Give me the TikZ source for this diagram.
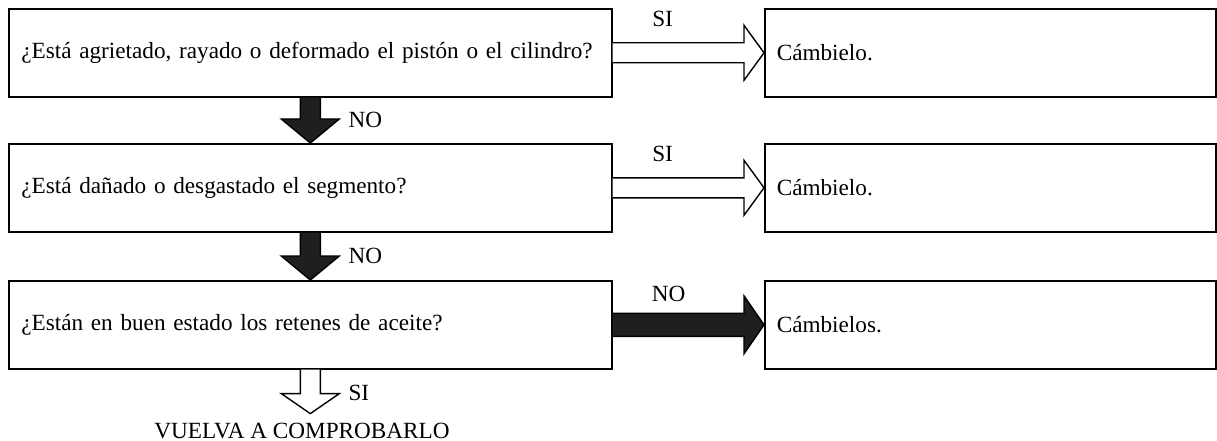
\documentclass[tikz,border=0pt]{standalone}
\usepackage{fontspec}
\setmainfont{Liberation Serif}
\usetikzlibrary{calc}
\begin{document}
\begin{tikzpicture}[x=1pt,y=-1pt,
  every node/.style={font=\fontsize{23.2}{27}\selectfont},
  question/.style={draw,line width=1.6pt,anchor=north west,minimum width=603pt,
    minimum height=88pt,text width=578pt,align=left,inner xsep=12pt,inner ysep=0pt},
  action/.style={draw,line width=1.6pt,anchor=north west,minimum width=451pt,
    minimum height=88pt,text width=427pt,align=left,inner xsep=11pt,inner ysep=0pt},
  label/.style={inner sep=0pt},
  hollow/.style={draw,line width=1.4pt,fill=white,line join=miter},
  solid/.style={draw,line width=1.4pt,fill=black!88,line join=miter}]
\useasboundingbox (0,0) rectangle (1217,441);

% question boxes
\node[question] (q1) at (8,8)   {\mbox{¿Está agrietado, rayado o deformado el pistón o el cilindro?}};
\node[question] (q2) at (8,143) {\mbox{¿Está dañado o desgastado el segmento?}};
\node[question] (q3) at (8,280) {\mbox{¿Están en buen estado los retenes de aceite?}};

% action boxes
\node[action] (a1) at (764,8)   {Cámbielo.};
\node[action] (a2) at (764,143) {Cámbielo.};
\node[action] (a3) at (764,280) {Cámbielos.};

% closing text
\node[label,anchor=base] (end) at (302,438) {VUELVA A COMPROBARLO};

% right arrows (hollow = SI, solid = NO)
\foreach \q/\a/\sty/\sh/\hh in {q1/a1/hollow/10/27.5, q2/a2/hollow/10/27.5, q3/a3/solid/11.5/29}{
  \path[\sty] ($(\q.east)+(0,-\sh)$) -- ($(\a.west)+(-20,-\sh)$) -- ($(\a.west)+(-20,-\hh)$)
    -- (\a.west) -- ($(\a.west)+(-20,\hh)$) -- ($(\a.west)+(-20,\sh)$) -- ($(\q.east)+(0,\sh)$);
}
\node[label] at ($(q1.east)+(50,-33.5)$) {SI};
\node[label] at ($(q2.east)+(50,-33.5)$) {SI};
\node[label] at ($(q3.east)+(56,-31)$) {NO};

% down arrows between questions
\foreach \q/\n in {q1/q2, q2/q3}{
  \path[solid] ($(\q.south)+(-10,0)$) -- ($(\n.north)+(-10,-24)$) -- ($(\n.north)+(-29,-24)$)
    -- (\n.north) -- ($(\n.north)+(29,-24)$) -- ($(\n.north)+(10,-24)$) -- ($(\q.south)+(10,0)$);
  \node[label,anchor=west] at ($(\q.south)!0.5!(\n.north)+(38,0)$) {NO};
}

% final hollow arrow towards the closing text
\coordinate (tip) at ($(q3.south)+(0,44)$);
\path[hollow] ($(q3.south)+(-10,0)$) -- ($(tip)+(-10,-20)$) -- ($(tip)+(-29,-20)$)
  -- (tip) -- ($(tip)+(29,-20)$) -- ($(tip)+(10,-20)$) -- ($(q3.south)+(10,0)$);
\node[label,anchor=west] at ($(q3.south)+(38,23)$) {SI};
\end{tikzpicture}
\end{document}
